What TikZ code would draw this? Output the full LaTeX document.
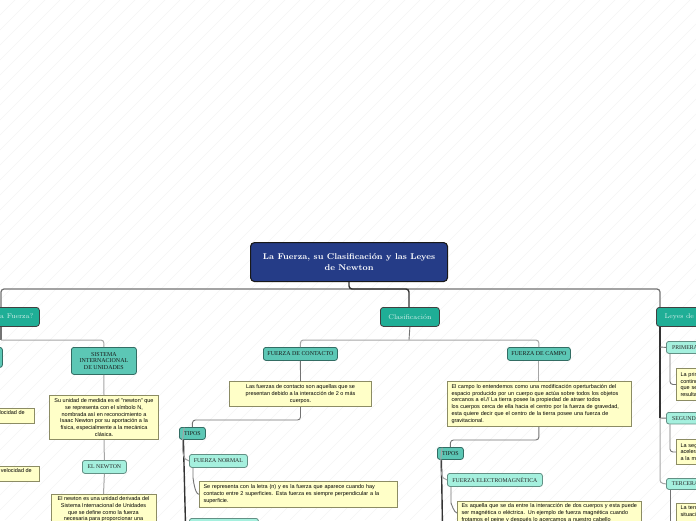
\documentclass[tikz,border=0pt]{standalone}
\usepackage{fontspec}
\newfontfamily\bodyfont{Liberation Sans}
\newfontfamily\capsfont{Liberation Serif}
\usetikzlibrary{calc}
\definecolor{rootblue}{HTML}{253C87}
\definecolor{maingreen}{HTML}{1FAE96}
\definecolor{midgreen}{HTML}{5CC7B5}
\definecolor{softgreen}{HTML}{A5F0DE}
\definecolor{notefill}{HTML}{FFFFC8}
\definecolor{noteline}{HTML}{8C8C64}
\tikzstyle{topic}=[draw=black!75, line width=.8pt, rounded corners=2.5pt, inner sep=0pt, anchor=north west, align=center]
\tikzstyle{root}=[topic, fill=rootblue, draw=black!90, line width=1.1pt, rounded corners=4pt, text=white, font=\fontsize{8.4}{11}\selectfont\bfseries]
\tikzstyle{main}=[topic, fill=maingreen, rounded corners=3pt, text=white!82!maingreen, font=\fontsize{6.9}{8}\selectfont]
\tikzstyle{sub}=[topic, fill=midgreen, draw=black!45!midgreen, text=black!90, font=\capsfont\fontsize{5.95}{6.8}\selectfont]
\tikzstyle{leaf}=[topic, fill=softgreen, draw=black!40!softgreen, text=black!85, font=\capsfont\fontsize{5.8}{7}\selectfont]
\tikzstyle{note}=[draw=noteline, line width=1pt, fill=notefill, inner xsep=4pt, inner ysep=2.2pt, anchor=north west, align=center, text=black, font=\bodyfont\fontsize{5.5}{6.75}\selectfont]
\tikzstyle{lnote}=[note, align=left]
\tikzstyle{trunk}=[black!80, line width=1.4pt, rounded corners=3pt]
\tikzstyle{bus}=[black!55, line width=1.2pt, rounded corners=3pt]
\tikzstyle{wire}=[black!55, line width=.9pt, rounded corners=3pt]
\tikzstyle{soft}=[black!35, line width=1pt, rounded corners=3pt]
\begin{document}
\begin{tikzpicture}[x=1pt, y=-1pt]
 \useasboundingbox (0,0) rectangle (696,520);
 \clip (0,0) rectangle (696,520);
 \fill[white] (0,0) rectangle (696,520);
 \foreach \i in {0,15,...,1215}
  \draw[black!4, line width=.5pt] (\i,0) -- ++(-520,520);
% main row
 \coordinate (busleft) at (1,289);
 \coordinate (busright) at (660,289);
 \coordinate (busmid) at (349,289);
 \coordinate (midbar) at (409,340);
 \coordinate (leftbar) at (1,340);
 \coordinate (rightend) at (660,483);
 \coordinate (rightturn) at (660,418);
 \coordinate (rightfirst) at (660,347);
 \coordinate (lefttop) at (1,326);
 \coordinate (righttop) at (660,327);
 \draw[bus] (busleft) ++(0,30) -- (busleft) -- (busright) -- ++(0,18);
 \draw[bus] (lefttop) -- (leftbar);
 \draw[trunk] (busmid) ++(0,-8) -- (busmid) -| (409,307);
 \node[root, minimum width=197pt, minimum height=39pt] (title) at (250,242) {La Fuerza, su Clasificación y las Leyes\\de Newton};
 \node[main, minimum width=77pt, minimum height=19pt] (quees) at (-38,307) {¿Qué es la Fuerza?};
 \node[main, minimum width=59pt, minimum height=19pt] (clasif) at (380,307) {Clasificación};
 \node[main, minimum width=80pt, minimum height=19pt] (leyes) at (656,307) {Leyes de la Fuerza};
% left branch
 \node[sub, minimum width=30pt, minimum height=20pt] (hidden) at (-28,347) {};
 \node[sub, minimum width=65pt, minimum height=27pt] (sistema) at (71,347) {SISTEMA\\INTERNACIONAL\\DE UNIDADES};
 \node[note, minimum width=109pt, minimum height=44pt] (unidad) at (49,395) {Su unidad de medida es el "newton" que\\se representa con el símbolo N,\\nombrada así en reconocimiento a\\Isaac Newton por su aportación a la\\física, especialmente a la mecánica\\clásica.};
 \node[leaf, minimum width=44pt, minimum height=13pt] (elnewton) at (82,460) {EL NEWTON};
 \node[note, anchor=north, minimum width=105pt] (derivada) at (103.5,494) {El newton es una unidad derivada del\\Sistema Internacional de Unidades\\que se define como la fuerza\\necesaria para proporcionar una\\[14pt]\phantom{x}};
 \node[note, anchor=north east, minimum width=50pt, align=right] (vela) at (34.7,408) {velocidad de\\\phantom{x}};
 \node[note, anchor=north east, minimum width=50pt, align=right] (velb) at (39.5,466) {a velocidad de\\\phantom{x}};
% middle branch
 \node[sub, minimum width=74pt, minimum height=13pt] (contacto) at (263,347) {FUERZA DE CONTACTO};
 \node[note, minimum width=142pt, minimum height=25pt] (notacontacto) at (229,381) {Las fuerzas de contacto son aquellas que se\\presentan debido a la interacción de 2 o más\\cuerpos.};
 \node[sub, minimum width=26pt, minimum height=12pt] (tiposa) at (179,427) {TIPOS};
 \node[leaf, minimum width=58pt, minimum height=13pt] (normal) at (189,454) {FUERZA NORMAL};
 \node[lnote, minimum height=25.5pt, text width=190pt] (notanormal) at (199,481) {Se representa con la letra (n) y es la fuerza que aparece cuando hay\\contacto entre 2 superficies. Esta fuerza es siempre perpendicular a la\\superficie.};
 \node[leaf, minimum width=69pt, minimum height=13pt] (siguiente) at (189,518) {};
% second middle branch
 \node[sub, minimum width=63pt, minimum height=13pt] (campo) at (507,347) {FUERZA DE CAMPO};
 \node[lnote, minimum height=44.5pt, text width=176pt] (notacampo) at (447,381) {El campo lo entendemos como una modificación operturbación del\\espacio producido por un cuerpo que actúa sobre todos los objetos\\cercanos a el.// La tierra posee la propiedad de atraer todos\\los cuerpos cerca de ella hacia el centro por la fuerza de gravedad,\\esta quiere decir que el centro de la tierra posee una fuerza de\\gravitacional.};
 \node[sub, minimum width=26pt, minimum height=12pt] (tiposb) at (437,447) {TIPOS};
 \node[leaf, minimum width=95pt, minimum height=13pt] (electro) at (447,473) {FUERZA ELECTROMAGNÉTICA};
 \node[lnote, text width=176pt] (notaelectro) at (457,501) {Es aquella que se da entre la interacción de dos cuerpos y esta puede\\ser magnética o eléctrica. Un ejemplo de fuerza magnética cuando\\frotamos el peine y después lo acercamos a nuestro cabello\\[8pt]\phantom{x}};
% right branch
 \node[leaf, minimum width=50pt, minimum height=12pt] (primera) at (666,341) {PRIMERA LEY};
 \node[lnote, minimum height=32pt, text width=52pt] (notaprimera) at (676,368) {La primera\\continua\\que se\\resulta};
 \node[leaf, minimum width=52pt, minimum height=11.5pt] (segunda) at (666,412) {SEGUNDA LEY};
 \node[lnote, minimum height=25pt, text width=52pt] (notasegunda) at (676,439) {La segunda\\aceleración\\a la masa};
 \node[leaf, minimum width=50pt, minimum height=11pt] (tercera) at (666,478) {TERCERA LEY};
 \node[lnote, text width=52pt] (notatercera) at (676,503) {La tercera\\situación\\[8pt]\phantom{x}};
% connectors
 \draw[soft] (leftbar) -- (sistema.north |- leftbar) -- (sistema.north);
 \draw[soft] (sistema.south) -- (unidad.north);
 \draw[soft] (unidad.south) -- (elnewton.north);
 \draw[soft] (elnewton.south) -- (derivada.north);
 \draw[wire] (clasif.south) -- (midbar);
 \draw[soft] (contacto.north) |- (midbar) -| (campo.north);
 \draw[wire] (contacto.south) -- (notacontacto.north);
 \draw[soft] (campo.south) -- (campo.south |- notacampo.north);
 \draw[wire] (notacontacto.south) |- ($(tiposa.north)+(0,-7)$) -- (tiposa.north);
 \draw[wire] (campo.south |- notacampo.south) |- ($(tiposb.north)+(0,-7)$) -- (tiposb.north);
 \draw[trunk] ([xshift=-9pt]tiposa.south) -- ++(2,81);
 \draw[trunk] ([xshift=-9pt]tiposb.south) -- ++(1,62);
 \draw[soft] ([xshift=-8.5pt,yshift=10pt]tiposa.south) to[out=80,in=180] (normal.west);
 \draw[soft] ([xshift=-8.5pt,yshift=10pt]tiposb.south) to[out=80,in=180] (electro.west);
 \draw[wire] ([xshift=4pt]normal.south west) -- ++(0,13) to[out=90,in=180,looseness=.8] (notanormal.west);
 \draw[wire] ([xshift=4pt]electro.south west) -- ++(0,19) to[out=90,in=180,looseness=.8] ($(notaelectro.north west)+(0,12)$);
 \draw[trunk] (righttop) -- (rightturn);
 \draw[soft] (rightturn) -- (rightend) -- (tercera.west);
 \draw[wire] (rightfirst) -- (primera.west);
 \draw[wire] (rightturn) -- (segunda.west);
 \draw[wire] ([xshift=4pt]primera.south west) |- (notaprimera.west);
 \draw[wire] ([xshift=4pt]segunda.south west) |- (notasegunda.west);
 \draw[wire] ([xshift=4pt]tercera.south west) -- ++(0,40);
\end{tikzpicture}
\end{document}
